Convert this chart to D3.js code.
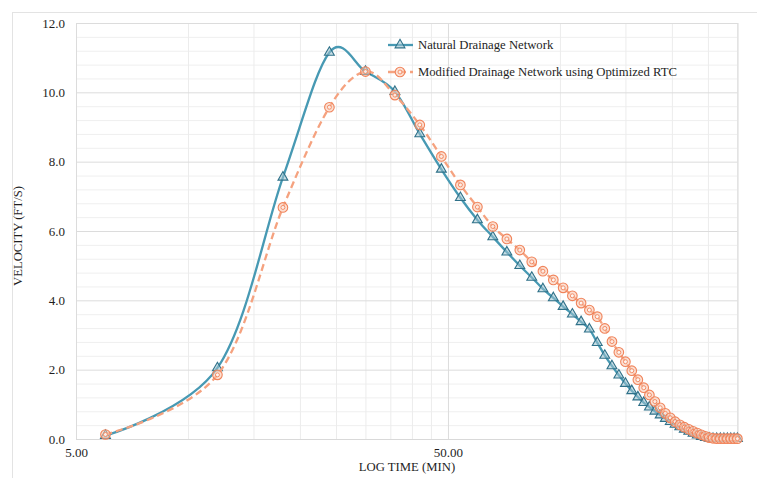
<!DOCTYPE html>
<html>
<head>
<meta charset="utf-8">
<script src="https://cdn.jsdelivr.net/npm/d3@7"></script>
<style>
  body { margin: 0; background: #fff; }
  text { font-family: "Liberation Serif", "Times New Roman", serif; fill: #1e1e1e; }
</style>
</head>
<body>
<div id="plot"></div>
<script>
// time steps (min)
const times = [6, 12, 18, 24, 30, 36, 42, 48, 54, 60, 66, 72, 78, 84, 90, 96, 102, 108, 114, 120,
               126, 132, 138, 144, 150, 156, 162, 168, 174, 180, 186, 192, 198, 204, 210, 216, 222, 228, 234, 240,
               246, 252, 258, 264, 270, 276, 282, 288, 294, 300];
// velocity (ft/s)
const natural = [0.10, 2.05, 7.55, 11.15, 10.60, 10.02, 8.80, 7.78, 6.96, 6.32, 5.83, 5.39, 5.00, 4.66, 4.33, 4.07, 3.82, 3.60, 3.38, 3.17,
                 2.78, 2.41, 2.11, 1.84, 1.60, 1.39, 1.21, 1.05, 0.92, 0.80, 0.69, 0.59, 0.50, 0.42, 0.35, 0.28, 0.22, 0.16, 0.11, 0.07,
                 0.04, 0.02, 0.01, 0.01, 0.01, 0.01, 0.01, 0.01, 0.01, 0.01];
const modified = [0.13, 1.85, 6.68, 9.57, 10.60, 9.92, 9.06, 8.15, 7.33, 6.69, 6.13, 5.77, 5.45, 5.11, 4.84, 4.59, 4.36, 4.13, 3.92, 3.72,
                  3.53, 3.19, 2.81, 2.50, 2.23, 1.97, 1.71, 1.48, 1.27, 1.08, 0.90, 0.74, 0.61, 0.50, 0.41, 0.34, 0.28, 0.22, 0.17, 0.12,
                  0.08, 0.04, 0.02, 0.01, 0.01, 0.01, 0.01, 0.01, 0.01, 0.01];
const yMajor = [0, 2, 4, 6, 8, 10, 12];
const yMinor = [0.4, 0.8, 1.2, 1.6, 2.4, 2.8, 3.2, 3.6, 4.4, 4.8, 5.2, 5.6, 6.4, 6.8, 7.2, 7.6,
                8.4, 8.8, 9.2, 9.6, 10.4, 10.8, 11.2, 11.6];
const xMajor = [5, 50];
const xMinor = [10, 15, 20, 25, 30, 35, 40, 45, 100, 150, 200, 250, 300];
const seriesNames = ["Natural Drainage Network", "Modified Drainage Network using Optimized RTC"];

const svg = d3.select("#plot").append("svg")
  .attr("width", 757)
  .attr("height", 478);

// chart border
svg.append("rect")
  .attr("x", 12.5).attr("y", 12.5)
  .attr("width", 800).attr("height", 500)
  .attr("fill", "none")
  .attr("stroke", "#e3e3e3");

const plotL = 76, plotR = 737.4, plotT = 23, plotB = 439;
const x = d3.scaleLog().domain([5, 300]).range([plotL, plotR]);
const y = d3.scaleLinear().domain([0, 12]).range([plotB, plotT]);

// grid lines
svg.append("g")
  .attr("transform", `translate(${plotL},0)`)
  .call(d3.axisLeft(y).tickValues(yMinor).tickSize(-(plotR - plotL)).tickFormat(""))
  .call(g => g.select(".domain").remove())
  .call(g => g.selectAll("line").attr("stroke", "#efefef"));
svg.append("g")
  .attr("transform", `translate(0,${plotB})`)
  .call(d3.axisBottom(x).tickValues(xMinor).tickSize(-(plotB - plotT)).tickFormat(""))
  .call(g => g.select(".domain").remove())
  .call(g => g.selectAll("line").attr("stroke", "#ececec"));

const yAxis = svg.append("g")
  .attr("transform", `translate(${plotL},0)`)
  .call(d3.axisLeft(y).tickValues(yMajor).tickSize(-(plotR - plotL)).tickPadding(11).tickFormat(d3.format(".1f")));
yAxis.select(".domain").attr("stroke", "#d9d9d9");
yAxis.selectAll("line").attr("stroke", "#dcdcdc");
yAxis.selectAll("text").style("font-size", "13px").attr("fill", "#1e1e1e");

const xAxis = svg.append("g")
  .attr("transform", `translate(0,${plotB})`)
  .call(d3.axisBottom(x).tickValues(xMajor).tickSize(-(plotB - plotT)).tickPadding(9).tickFormat(d3.format(".2f")));
xAxis.select(".domain").attr("stroke", "#d9d9d9");
xAxis.selectAll("line").attr("stroke", "#dcdcdc");
xAxis.selectAll("text").style("font-size", "13px").attr("fill", "#1e1e1e");

// axis titles
svg.append("text")
  .attr("x", 407).attr("y", 471)
  .attr("text-anchor", "middle")
  .style("font-size", "12.7px")
  .text("LOG TIME  (MIN)");
svg.append("text")
  .attr("transform", "translate(22,236) rotate(-90)")
  .attr("text-anchor", "middle")
  .style("font-size", "12.7px")
  .text("VELOCITY  (FT/S)");

const blue = "#4799b3", blueDark = "#2f7189";
const orange = "#f5a27f", orangeDark = "#f0835a";

const line = d3.line().curve(d3.curveCardinal.tension(0));
const tri = d3.symbol().type(d3.symbolTriangle).size(42);

function drawBlue(g, pts) {
  g.selectAll("path.tri").data(pts).enter().append("path")
    .attr("class", "tri")
    .attr("d", tri)
    .attr("transform", d => `translate(${d[0]},${d[1]})`)
    .attr("fill", "#9fc3cf").attr("fill-opacity", 0.55)
    .attr("stroke", blueDark).attr("stroke-width", 1.1);
}
function drawOrange(g, pts) {
  const m = g.selectAll("g.circ").data(pts).enter().append("g")
    .attr("class", "circ")
    .attr("transform", d => `translate(${d[0]},${d[1]})`);
  m.append("circle").attr("r", 4.8)
    .attr("fill", "#f9c6ae").attr("fill-opacity", 0.55)
    .attr("stroke", orangeDark).attr("stroke-width", 1.1);
  m.append("circle").attr("r", 2)
    .attr("fill", "#fff").attr("fill-opacity", 0.7)
    .attr("stroke", orangeDark).attr("stroke-width", 0.9);
}

const bluePts = times.map((t, i) => [x(t), y(natural[i])]);
const orangePts = times.map((t, i) => [x(t), y(modified[i])]);

svg.append("path")
  .attr("d", line(bluePts))
  .attr("fill", "none").attr("stroke", blue).attr("stroke-width", 2.3);
drawBlue(svg.append("g"), bluePts);

svg.append("path")
  .attr("d", line(orangePts))
  .attr("fill", "none").attr("stroke", orange).attr("stroke-width", 2.3)
  .attr("stroke-dasharray", "7,4");
drawOrange(svg.append("g"), orangePts);

// legend
const lg = svg.append("g");
lg.append("line").attr("x1", 388).attr("x2", 413).attr("y1", 45).attr("y2", 45)
  .attr("stroke", blue).attr("stroke-width", 2.3);
drawBlue(lg.append("g"), [[400, 45]]);
lg.append("text").attr("x", 418).attr("y", 49).style("font-size", "12.7px").text(seriesNames[0]);
lg.append("line").attr("x1", 388).attr("x2", 413).attr("y1", 72).attr("y2", 72)
  .attr("stroke", orange).attr("stroke-width", 2.3).attr("stroke-dasharray", "7,4");
drawOrange(lg.append("g"), [[400, 72]]);
lg.append("text").attr("x", 418).attr("y", 76).style("font-size", "12.7px").text(seriesNames[1]);
</script>
</body>
</html>
